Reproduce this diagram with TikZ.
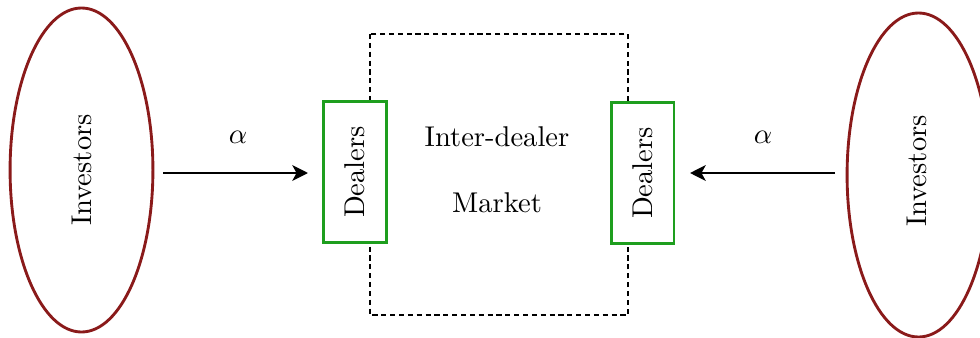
\documentclass[tikz,border=0pt]{standalone}
\usetikzlibrary{arrows.meta,shapes.geometric}
\definecolor{invred}{RGB}{138,26,26}
\definecolor{dealgreen}{RGB}{30,158,30}
\begin{document}
\begin{tikzpicture}[x=0.35pt,y=-0.35pt,
  investors/.style={ellipse,draw=invred,line width=1pt,minimum width=50pt,minimum height=113.4pt,inner sep=0pt},
  dealers/.style={rectangle,draw=dealgreen,fill=white,line width=1pt,minimum width=22pt,minimum height=49.4pt,inner sep=0pt},
  flow/.style={line width=0.8pt,-{Stealth[length=5.5pt,width=5.5pt,inset=1.5pt]}},
  market/.style={dash pattern=on 1.8pt off 1.3pt,line width=0.8pt}]
  \useasboundingbox (0,0) rectangle (980,337);
  % inter-dealer market boundary
  \draw[market] (370,34) rectangle (628,315);
  % investor pools
  \node[investors] (invL) at (81.5,170) {};
  \node[rotate=90] at (invL.center) {Investors};
  \node[investors] (invR) at (918.5,175) {};
  \node[rotate=90] at (917,171) {Investors};
  % dealers
  \node[dealers] (dL) at (355,172) {\rotatebox{90}{Dealers}};
  \node[dealers] (dR) at (642.5,173) {\rotatebox{90}{Dealers}};
  % market label
  \node (lab1) at (497,137) {Inter-dealer};
  \node (lab2) at (497,203) {Market};
  % order flow
  \coordinate (aL) at (163,173);
  \coordinate (aR) at (835,173);
  \draw[flow] (aL) -- (308,173) coordinate (eL);
  \draw[flow] (aR) -- (690,173) coordinate (eR);
  \node (alL) at (238,137) {$\alpha$};
  \node (alR) at (763,137) {$\alpha$};
\end{tikzpicture}
\end{document}
